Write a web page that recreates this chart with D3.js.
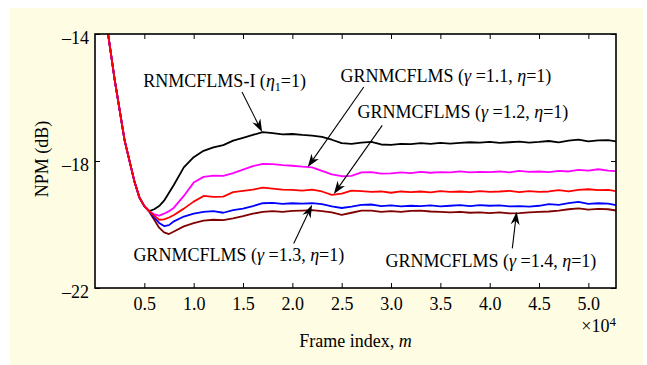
<!DOCTYPE html>
<html>
<head>
<meta charset="utf-8">
<script src="https://cdn.jsdelivr.net/npm/d3@7"></script>
<style>
  body { margin: 0; background: #fff; }
  text { font-family: "Liberation Serif", "Times New Roman", serif; fill: #000; }
</style>
</head>
<body>
<svg id="chart"></svg>
<script>
// frame index, in units of 10^4
const frameIndex = [0.1, 0.2, 0.3, 0.4, 0.45, 0.5,
  0.55, 0.6, 0.65, 0.7, 0.75, 0.8,
  0.9, 1.0, 1.1, 1.2, 1.3, 1.4, 1.5, 1.6, 1.7, 1.8,
  1.9, 2.0, 2.1, 2.2, 2.3, 2.4, 2.5, 2.6, 2.7, 2.8,
  2.9, 3.0, 3.1, 3.2, 3.3, 3.4, 3.5, 3.6, 3.7, 3.8,
  3.9, 4.0, 4.1, 4.2, 4.3, 4.4, 4.5, 4.6, 4.7, 4.8,
  4.9, 5.0, 5.1, 5.2, 5.28];

// NPM (dB)
const npmRnmcflms = [-13.3, -15.45, -17.35, -18.65, -19.15, -19.42,
  -19.58, -19.52, -19.42, -19.25, -19.0, -18.75,
  -18.2, -17.88, -17.68, -17.57, -17.5, -17.36, -17.27, -17.18, -17.09, -17.12,
  -17.16, -17.15, -17.18, -17.2, -17.24, -17.33, -17.44, -17.46, -17.42, -17.4,
  -17.48, -17.49, -17.46, -17.47, -17.44, -17.46, -17.43, -17.45, -17.43, -17.41,
  -17.42, -17.40, -17.43, -17.41, -17.39, -17.42, -17.40, -17.37, -17.41, -17.36,
  -17.33, -17.38, -17.35, -17.34, -17.38];

const npmGamma11 = [-13.3, -15.45, -17.35, -18.65, -19.15, -19.42,
  -19.58, -19.68, -19.72, -19.66, -19.58, -19.47,
  -19.1, -18.68, -18.5, -18.46, -18.47, -18.38, -18.27, -18.16, -18.09, -18.1,
  -18.13, -18.15, -18.18, -18.2, -18.31, -18.42, -18.48, -18.47, -18.36, -18.35,
  -18.4, -18.39, -18.36, -18.38, -18.34, -18.37, -18.35, -18.36, -18.33, -18.36,
  -18.34, -18.35, -18.33, -18.36, -18.31, -18.34, -18.33, -18.35, -18.31, -18.33,
  -18.28, -18.3, -18.26, -18.3, -18.32];

const npmGamma12 = [-13.3, -15.45, -17.35, -18.65, -19.15, -19.42,
  -19.58, -19.72, -19.85, -19.84, -19.78, -19.7,
  -19.5, -19.28, -19.1, -19.13, -19.12, -18.98, -18.94, -18.9, -18.84, -18.87,
  -18.9, -18.91, -18.93, -18.9, -18.96, -19.07, -19.03, -18.93, -18.95, -18.97,
  -18.96, -19.0, -18.96, -18.98, -18.96, -18.99, -18.95, -18.97, -18.96, -18.98,
  -18.95, -18.97, -18.96, -18.94, -18.98, -18.95, -18.97, -18.96, -18.92, -18.96,
  -18.91, -18.89, -18.92, -18.91, -18.95];

const npmGamma13 = [-13.3, -15.45, -17.35, -18.65, -19.15, -19.42,
  -19.58, -19.78, -19.95, -20.05, -20.02, -19.9,
  -19.75, -19.66, -19.6, -19.58, -19.63, -19.55, -19.5, -19.42, -19.33, -19.32,
  -19.35, -19.33, -19.34, -19.33, -19.36, -19.43, -19.48, -19.44, -19.38, -19.37,
  -19.42, -19.4, -19.43, -19.41, -19.42, -19.4, -19.43, -19.41, -19.39, -19.42,
  -19.39, -19.41, -19.4, -19.43, -19.42, -19.44, -19.41, -19.36, -19.38, -19.33,
  -19.29, -19.35, -19.33, -19.34, -19.39];

const npmGamma14 = [-13.3, -15.45, -17.35, -18.65, -19.15, -19.42,
  -19.6, -19.85, -20.1, -20.25, -20.3, -20.22,
  -20.06, -19.96, -19.88, -19.85, -19.86, -19.81, -19.74, -19.66, -19.6, -19.58,
  -19.6, -19.57, -19.56, -19.55, -19.58, -19.62, -19.7, -19.63, -19.56, -19.56,
  -19.6, -19.58, -19.6, -19.57, -19.56, -19.59, -19.6, -19.62, -19.6, -19.63,
  -19.62, -19.64, -19.62, -19.65, -19.64, -19.62, -19.6, -19.59, -19.56, -19.52,
  -19.49, -19.53, -19.51, -19.52, -19.56];

const xTicks = [0.5, 1.0, 1.5, 2.0, 2.5, 3.0, 3.5, 4.0, 4.5, 5.0];
const yTicks = [-22, -18, -14];

const width = 647;
const height = 365;
const plot = {left: 95, right: 616, top: 34, bottom: 288};

const svg = d3.select('svg#chart')
  .attr('width', width)
  .attr('height', height);

// pale yellow panel
svg.append('rect')
  .attr('x', 10).attr('y', 8)
  .attr('width', 633).attr('height', 357)
  .attr('fill', '#fefce3');

svg.append('rect')
  .attr('x', plot.left).attr('y', plot.top)
  .attr('width', plot.right - plot.left).attr('height', plot.bottom - plot.top)
  .attr('fill', '#fff');

const x = d3.scaleLinear().domain([0, 5.28]).range([plot.left, plot.right]);
const y = d3.scaleLinear().domain([-22, -14]).range([plot.bottom, plot.top]);

svg.append('clipPath').attr('id', 'clip')
  .append('rect')
  .attr('x', plot.left).attr('y', plot.top)
  .attr('width', plot.right - plot.left).attr('height', plot.bottom - plot.top);

const series = [
  {values: npmRnmcflms, color: '#000000'},
  {values: npmGamma14, color: '#800000'},
  {values: npmGamma13, color: '#0000ff'},
  {values: npmGamma11, color: '#ff00ff'},
  {values: npmGamma12, color: '#ff0000'}
];

const line = d3.line()
  .x((d, i) => x(frameIndex[i]))
  .y(d => y(d));

svg.append('g')
  .attr('clip-path', 'url(#clip)')
  .selectAll('path')
  .data(series)
  .join('path')
  .attr('d', d => line(d.values))
  .attr('fill', 'none')
  .attr('stroke', d => d.color)
  .attr('stroke-width', 1.8)
  .attr('stroke-linejoin', 'round');

// axes, ticks pointing inward
const fmtX = d3.format('.1f');
const fmtY = d => '\u2013' + Math.abs(d);

svg.append('g')
  .attr('transform', 'translate(0,' + plot.bottom + ')')
  .call(d3.axisBottom(x).tickValues(xTicks).tickSize(-5).tickPadding(9).tickFormat(fmtX))
  .call(g => g.select('.domain').remove());

svg.append('g')
  .attr('transform', 'translate(0,' + plot.top + ')')
  .call(d3.axisTop(x).tickValues(xTicks).tickSize(-5).tickFormat(''))
  .call(g => g.select('.domain').remove());

svg.append('g')
  .attr('transform', 'translate(' + plot.left + ',0)')
  .call(d3.axisLeft(y).tickValues(yTicks).tickSize(-5).tickPadding(6).tickFormat(fmtY))
  .call(g => g.select('.domain').remove())
  .selectAll('text').attr('dy', '0.52em');

svg.append('g')
  .attr('transform', 'translate(' + plot.right + ',0)')
  .call(d3.axisRight(y).tickValues(yTicks).tickSize(-5).tickFormat(''))
  .call(g => g.select('.domain').remove());

svg.selectAll('.tick line').attr('stroke', '#000').attr('stroke-width', 1);
svg.selectAll('.tick text')
  .attr('font-family', '"Liberation Serif", serif')
  .attr('font-size', 18)
  .attr('fill', '#000');

svg.append('rect')
  .attr('x', plot.left).attr('y', plot.top)
  .attr('width', plot.right - plot.left).attr('height', plot.bottom - plot.top)
  .attr('fill', 'none')
  .attr('stroke', '#000')
  .attr('stroke-width', 1.6);

// axis titles
svg.append('text')
  .attr('transform', 'translate(48,159) rotate(-90)')
  .attr('text-anchor', 'middle')
  .attr('font-size', 18)
  .text('NPM (dB)');

const xTitle = svg.append('text')
  .attr('x', (plot.left + plot.right) / 2)
  .attr('y', 347)
  .attr('text-anchor', 'middle')
  .attr('font-size', 18);
xTitle.append('tspan').text('Frame index, ');
xTitle.append('tspan').attr('font-style', 'italic').text('m');

const expo = svg.append('text')
  .attr('x', plot.right)
  .attr('y', 332)
  .attr('text-anchor', 'end')
  .attr('font-size', 18);
expo.append('tspan').text('\u00d710');
expo.append('tspan').attr('font-size', 13).attr('dy', -6).text('4');

// annotations: label at (lx, ly), arrow from (ax, ay) to the curve at (tx, ty)
const notes = [
  {parts: [['RNMCFLMS-I (', ''], ['\u03b7', 'i'], ['1', 'sub'], ['=1)', '']],
    lx: 0.49, ly: -15.67, ax: 1.49, ay: -15.83, tx: 1.694, ty: -17.09},
  {parts: [['GRNMCFLMS (', ''], ['\u03b3', 'i'], [' =1.1, ', ''], ['\u03b7', 'i'], ['=1)', '']],
    lx: 2.488, ly: -15.52, ax: 2.724, ay: -15.67, tx: 2.156, ty: -18.19},
  {parts: [['GRNMCFLMS (', ''], ['\u03b3', 'i'], [' =1.2, ', ''], ['\u03b7', 'i'], ['=1)', '']],
    lx: 2.66, ly: -16.66, ax: 2.911, ay: -16.88, tx: 2.42, ty: -19.04},
  {parts: [['GRNMCFLMS (', ''], ['\u03b3', 'i'], [' =1.3, ', ''], ['\u03b7', 'i'], ['=1)', '']],
    lx: 0.389, ly: -21.15, ax: 2.014, ay: -20.6, tx: 2.2, ty: -19.38},
  {parts: [['GRNMCFLMS (', ''], ['\u03b3', 'i'], [' =1.4, ', ''], ['\u03b7', 'i'], ['=1)', '']],
    lx: 2.944, ly: -21.34, ax: 4.229, ay: -20.75, tx: 4.273, ty: -19.6}
];

notes.forEach(n => {
  const t = svg.append('text')
    .attr('x', x(n.lx))
    .attr('y', y(n.ly))
    .attr('font-size', 18);
  let shifted = false;
  n.parts.forEach(([s, style]) => {
    const span = t.append('tspan').text(s);
    if (style === 'i') span.attr('font-style', 'italic');
    if (style === 'sub') {
      span.attr('font-size', 12).attr('dy', 4);
      shifted = true;
    } else if (shifted) {
      span.attr('dy', -4);
      shifted = false;
    }
  });

  const x0 = x(n.ax), y0 = y(n.ay), x1 = x(n.tx), y1 = y(n.ty);
  const len = Math.hypot(x1 - x0, y1 - y0);
  const ux = (x1 - x0) / len, uy = (y1 - y0) / len;
  const head = 13, half = 4.5;
  svg.append('line')
    .attr('x1', x0).attr('y1', y0)
    .attr('x2', x1 - ux * head * 0.7).attr('y2', y1 - uy * head * 0.7)
    .attr('stroke', '#000')
    .attr('stroke-width', 1.1);
  const pts = [
    [x1, y1],
    [x1 - ux * head - uy * half, y1 - uy * head + ux * half],
    [x1 - ux * head * 0.7, y1 - uy * head * 0.7],
    [x1 - ux * head + uy * half, y1 - uy * head - ux * half]
  ];
  svg.append('polygon')
    .attr('points', pts.map(p => p.join(',')).join(' '))
    .attr('fill', '#000');
});
</script>
</body>
</html>
